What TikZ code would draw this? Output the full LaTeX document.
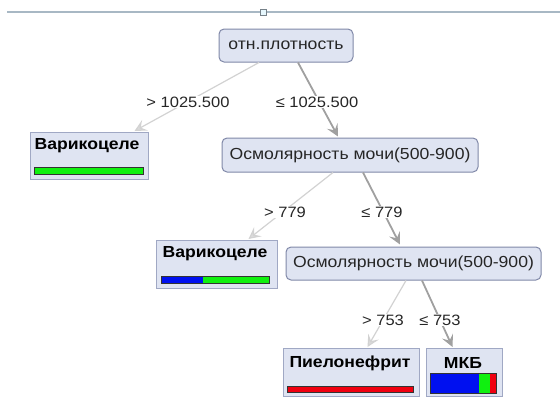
\documentclass[tikz,border=0pt]{standalone}
\usepackage{fontspec}
\setmainfont{Liberation Sans}
\newfontfamily\widefont{Liberation Sans}[FakeStretch=1.1]
\usetikzlibrary{arrows.meta,calc}
\definecolor{nodefill}{HTML}{DFE4F2}
\definecolor{nodeborder}{HTML}{8088A8}
\definecolor{leafborder}{HTML}{A0A8C4}
\definecolor{edgedark}{HTML}{A0A0A0}
\definecolor{edgelight}{HTML}{D2D2D2}
\definecolor{barblue}{HTML}{0010F0}
\definecolor{bargreen}{HTML}{10F010}
\definecolor{barred}{HTML}{F00010}
\definecolor{topline}{HTML}{A8B8C4}
\tikzset{
  x=1pt,y=-1pt,
  inner/.style={draw=nodeborder,fill=nodefill,rounded corners=5pt,line width=1pt,
    inner sep=0pt,font=\widefont\fontsize{16}{19}\selectfont,text=black!85},
  leafbox/.style={draw=leafborder,fill=nodefill,line width=1pt,inner sep=0pt,anchor=north west},
  leaftitle/.style={font=\widefont\fontsize{16}{19}\selectfont\bfseries,text=black,inner sep=0pt},
  bar/.style={draw=black!80,line width=0.8pt},
  lbl/.style={fill=white,inner sep=1pt,font=\widefont\fontsize{15}{18}\selectfont,text=black!85},
  edgeL/.style={draw=edgelight,line width=1.2pt,-{Stealth[length=12pt,width=12pt,inset=5pt,fill=edgelight!80]}},
  edgeD/.style={draw=edgedark,line width=1.8pt,-{Stealth[length=12pt,width=12pt,inset=5pt,fill=edgedark]}}
}
\begin{document}
\begin{tikzpicture}
\useasboundingbox (0,0) rectangle (560,397);
% top line
\draw[topline,line width=1.5pt] (7,12) -- (560,12);
\node[draw=topline!70!black,fill=cyan!10,minimum size=6pt,inner sep=0pt,line width=0.8pt] (hdl) at (263,12) {};

% internal nodes
\node[inner,minimum width=134pt,minimum height=33pt] (root) at (286,45.5) {отн.плотность};
\node[inner,minimum width=256pt,minimum height=34pt] (n2) at (350,155) {Осмолярность мочи(500-900)};
\node[inner,minimum width=255pt,minimum height=33pt] (n3) at (413.5,263.5) {Осмолярность мочи(500-900)};

% leaves
\node[leafbox,minimum width=118pt,minimum height=47pt] (leaf1) at (30,132) {};
\node[leaftitle] (t1) at (87,146) {Варикоцеле};
\node[bar,fill=bargreen,minimum width=109pt,minimum height=7pt,inner sep=0pt] (b1) at (88.5,170.5) {};

\node[leafbox,minimum width=121pt,minimum height=48pt] (leaf2) at (156,240) {};
\node[leaftitle] (t2) at (215,254) {Варикоцеле};
\fill[bargreen] (161,276) rectangle (269,283);
\fill[barblue] (161,276) rectangle (203,283);
\node[bar,minimum width=108pt,minimum height=7pt,inner sep=0pt] (b2) at (215,279.5) {};

\node[leafbox,minimum width=136pt,minimum height=48pt] (leaf3) at (283,348) {};
\node[leaftitle] (t3) at (350,363) {Пиелонефрит};
\node[bar,fill=barred,minimum width=126pt,minimum height=6pt,inner sep=0pt] (b3) at (350,389) {};

\node[leafbox,minimum width=76pt,minimum height=48pt] (leaf4) at (426,348) {};
\node[leaftitle] (t4) at (463,363) {МКБ};
\fill[barblue] (430,373) rectangle (479,393);
\fill[bargreen] (479,373) rectangle (490,393);
\fill[barred] (490,373) rectangle (496,393);
\node[bar,minimum width=66pt,minimum height=20pt,inner sep=0pt] (b4) at (463,383) {};

% edges
\draw[edgeL] ($(root.south)+(-27,0)$) -- ($(leaf1.north)+(45,-1)$);
\draw[edgeD] ($(root.south)+(12,0)$) -- ($(n2.north)+(-12,-1)$);
\draw[edgeL] ($(n2.south)+(-17,0)$) -- ($(leaf2.north)+(31.5,-1)$);
\draw[edgeD] ($(n2.south)+(13,0)$) -- ($(n3.north)+(-13.5,-2)$);
\draw[edgeL] ($(n3.south)+(-7.5,0)$) -- ($(leaf3.north)+(16,-1)$);
\draw[edgeD] ($(n3.south)+(8.5,0)$) -- ($(leaf4.north)+(-12,-1)$);

% labels
\node[lbl] (l1) at (188,102) {> 1025.500};
\node[lbl] (l2) at (317,102) {≤ 1025.500};
\node[lbl] (l3) at (285,212) {> 779};
\node[lbl] (l4) at (382,212) {≤ 779};
\node[lbl] (l5) at (383,320) {> 753};
\node[lbl] (l6) at (440,320) {≤ 753};
\end{tikzpicture}
\end{document}
